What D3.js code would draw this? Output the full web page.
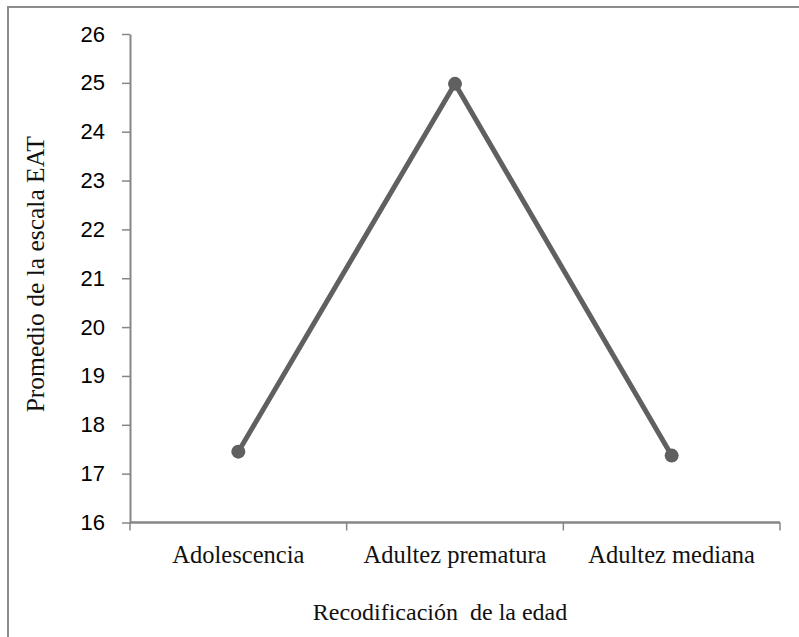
<!DOCTYPE html>
<html>
<head>
<meta charset="utf-8">
<script src="https://cdn.jsdelivr.net/npm/d3@7"></script>
<style>
  html, body { margin: 0; padding: 0; background: #fff; }
  svg { display: block; }
</style>
</head>
<body>
<svg id="chart" width="799" height="637"></svg>
<script>
// Mean EAT score by recoded age group
const categories = ["Adolescencia", "Adultez prematura", "Adultez mediana"];
const values = [17.45, 24.98, 17.37];
const yTicks = [16, 17, 18, 19, 20, 21, 22, 23, 24, 25, 26];
const xTitle = "Recodificación  de la edad";
const yTitle = "Promedio de la escala EAT";

const svg = d3.select("#chart");
const plot = { left: 130, right: 780, top: 34, bottom: 522.5 };

const axisColor = "#868686";
const lineColor = "#606060";
const serif = "'Liberation Serif', 'Times New Roman', serif";
const sans = "'Liberation Sans', Arial, sans-serif";

// Chart frame
svg.append("rect")
  .attr("x", 8).attr("y", 7)
  .attr("width", 900).attr("height", 900)
  .attr("fill", "none")
  .attr("stroke", "#8c8c8c")
  .attr("stroke-width", 2);

const x = d3.scaleBand().domain(categories).range([plot.left, plot.right]);
const y = d3.scaleLinear().domain([16, 26]).range([plot.bottom, plot.top]);

// Y axis
const yAxis = svg.append("g")
  .attr("transform", `translate(${plot.left},0)`)
  .call(d3.axisLeft(y).tickValues(yTicks).tickSize(8).tickSizeOuter(0).tickPadding(17));
yAxis.select(".domain").attr("stroke", axisColor).attr("stroke-width", 2);
yAxis.selectAll(".tick line").attr("stroke", axisColor).attr("stroke-width", 1.5);
yAxis.selectAll(".tick text")
  .attr("fill", "#000")
  .style("font-family", sans)
  .style("font-size", "22px");

// X axis with boundary ticks between categories
const xAxis = svg.append("g")
  .attr("transform", `translate(0,${plot.bottom})`);
xAxis.append("line")
  .attr("x1", plot.left).attr("x2", plot.right)
  .attr("stroke", axisColor).attr("stroke-width", 2.5);
const bounds = categories.map(c => x(c)).concat([x(categories[categories.length - 1]) + x.bandwidth()]);
xAxis.selectAll("line.bound")
  .data(bounds)
  .join("line")
  .attr("class", "bound")
  .attr("x1", d => d).attr("x2", d => d)
  .attr("y1", 0).attr("y2", 8)
  .attr("stroke", axisColor).attr("stroke-width", 1.5);
xAxis.selectAll("text.cat")
  .data(categories)
  .join("text")
  .attr("class", "cat")
  .attr("x", d => x(d) + x.bandwidth() / 2)
  .attr("y", 40)
  .attr("text-anchor", "middle")
  .style("font-family", serif)
  .style("font-size", "24.5px")
  .attr("fill", "#111")
  .text(d => d);

// Axis titles
svg.append("text")
  .attr("x", (plot.left + plot.right) / 2 - 15)
  .attr("y", 620)
  .attr("text-anchor", "middle")
  .style("font-family", serif)
  .style("font-size", "24px")
  .style("white-space", "pre")
  .attr("fill", "#111")
  .text(xTitle);

svg.append("text")
  .attr("transform", `translate(44,${(plot.top + plot.bottom) / 2 - 4}) rotate(-90)`)
  .attr("text-anchor", "middle")
  .style("font-family", serif)
  .style("font-size", "25.5px")
  .attr("fill", "#111")
  .text(yTitle);

// Line and markers
const pts = categories.map((c, i) => [x(c) + x.bandwidth() / 2, y(values[i])]);
svg.append("path")
  .attr("d", d3.line()(pts))
  .attr("fill", "none")
  .attr("stroke", lineColor)
  .attr("stroke-width", 5)
  .attr("stroke-linejoin", "round");
svg.selectAll("circle.pt")
  .data(pts)
  .join("circle")
  .attr("class", "pt")
  .attr("cx", d => d[0]).attr("cy", d => d[1])
  .attr("r", 7)
  .attr("fill", lineColor);
</script>
</body>
</html>
